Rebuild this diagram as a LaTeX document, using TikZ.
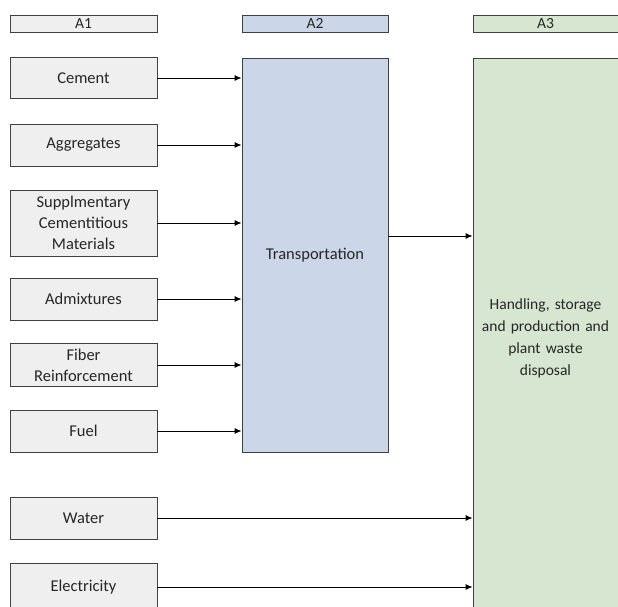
\documentclass[tikz,border=0pt]{standalone}
\usepackage{fontspec}
\setmainfont{Carlito}
\usetikzlibrary{arrows.meta}
\definecolor{boxline}{HTML}{404040}
\definecolor{boxtext}{HTML}{262626}
\definecolor{grayfill}{HTML}{EFEFEF}
\definecolor{bluefill}{HTML}{CBD6E8}
\definecolor{greenfill}{HTML}{D6E6D1}
\tikzset{
  stagebox/.style={draw=boxline, line width=0.9pt, text=boxtext, align=center,
    font=\fontsize{16.5}{21}\selectfont, inner sep=2pt},
  inbox/.style={stagebox, fill=grayfill, minimum width=147pt},
  headbox/.style={stagebox, minimum height=17pt, inner sep=0pt, font=\fontsize{15.5}{16}\selectfont},
  flow/.style={-{Latex[length=7pt,width=6pt]}, line width=0.9pt, draw=black}
}
\begin{document}
\begin{tikzpicture}[x=1pt, y=-1pt]
  \useasboundingbox (0,0) rectangle (618,607);
  \clip (0,0) rectangle (618,607);

  % Kopfzeilen
  \node[headbox, fill=grayfill, minimum width=147pt] (hA1) at (83.5,23.5) {A1};
  \node[headbox, fill=bluefill, minimum width=146pt] (hA2) at (315,23.5) {A2};
  \node[headbox, fill=greenfill, minimum width=145pt] (hA3) at (545.5,23.5) {A3};

  % Eingangsgroessen
  \node[inbox, minimum height=41pt] (cement) at (83.5,78) {Cement};
  \node[inbox, minimum height=42pt] (aggr) at (83.5,145) {Aggregates};
  \node[inbox, minimum height=66pt] (scm) at (83.5,223) {Supplmentary\\Cementitious\\Materials};
  \node[inbox, minimum height=42pt] (admix) at (83.5,299) {Admixtures};
  \node[inbox, minimum height=43pt] (fiber) at (83.5,365) {Fiber\\Reinforcement};
  \node[inbox, minimum height=42pt] (fuel) at (83.5,431) {Fuel};
  \node[inbox, minimum height=42pt] (water) at (83.5,518) {Water};
  \node[inbox, minimum height=48pt] (elec) at (83.5,587) {Electricity};

  % Transport und Werk
  \node[stagebox, fill=bluefill, minimum width=146pt, minimum height=394pt] (trans) at (315,255) {Transportation};
  \node[stagebox, fill=greenfill, minimum width=145pt, minimum height=560pt, text width=139pt,
    font=\fontsize{15.5}{22}\selectfont] (plant) at (545.5,338)
    {Handling, storage\\and production and\\plant waste\\disposal};

  % Pfeile
  \foreach \src in {cement, aggr, scm, admix, fiber, fuel}
    \draw[flow] (\src.east) -- (\src.east -| trans.west);
  \draw[flow] (trans.east |- 0,236) -- (plant.west |- 0,236);
  \draw[flow] (water.east) -- (water.east -| plant.west);
  \draw[flow] (elec.east) -- (elec.east -| plant.west);
\end{tikzpicture}
\end{document}
